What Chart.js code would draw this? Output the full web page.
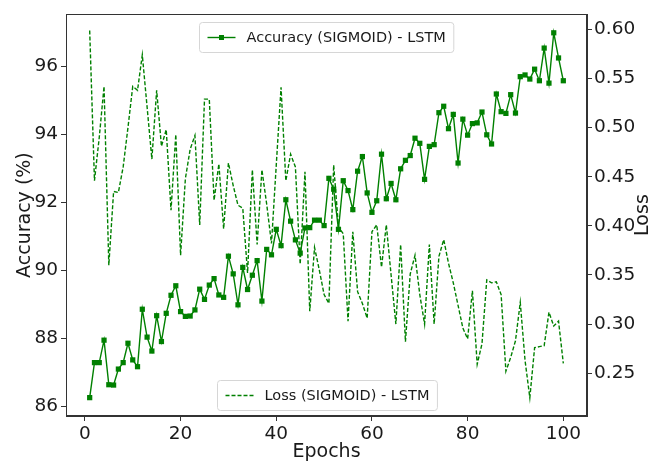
<!DOCTYPE html>
<html>
<head>
<meta charset="utf-8">
<script src="https://cdn.jsdelivr.net/npm/chart.js@4/dist/chart.umd.min.js"></script>
<style>
  html, body { margin: 0; padding: 0; background: #ffffff; }
  #wrap { width: 652px; height: 463px; position: relative; }
</style>
</head>
<body>
<div id="wrap"><canvas id="c" width="652" height="463"></canvas></div>
<script>
// ---------------- data ----------------
const epochs = [1,2,3,4,5,6,7,8,9,10,11,12,13,14,15,16,17,18,19,20,
  21,22,23,24,25,26,27,28,29,30,31,32,33,34,35,36,37,38,39,40,
  41,42,43,44,45,46,47,48,49,50,51,52,53,54,55,56,57,58,59,60,
  61,62,63,64,65,66,67,68,69,70,71,72,73,74,75,76,77,78,79,80,
  81,82,83,84,85,86,87,88,89,90,91,92,93,94,95,96,97,98,99,100];

const accuracy = [86.25,87.28,87.28,87.94,86.63,86.62,87.09,87.28,87.85,87.36,
  87.16,88.85,88.03,87.62,88.66,87.90,88.73,89.26,89.54,88.78,
  88.64,88.65,88.83,89.44,89.14,89.56,89.75,89.27,89.20,90.41,
  89.89,88.98,90.08,89.43,89.85,90.28,89.09,90.61,90.45,91.20,
  90.72,92.07,91.44,90.89,90.50,91.24,91.25,91.47,91.47,91.31,
  92.70,92.38,91.20,92.63,92.34,91.78,92.91,93.34,92.27,91.70,
  92.04,93.41,92.10,92.55,92.07,92.98,93.23,93.37,93.88,93.73,
  92.67,93.64,93.69,94.63,94.82,94.16,94.58,93.15,94.44,93.97,
  94.31,94.33,94.65,93.98,93.71,95.18,94.66,94.61,95.16,94.62,
  95.69,95.74,95.62,95.91,95.57,96.53,95.50,96.98,96.24,95.57];

const loss = [0.599,0.446,0.490,0.542,0.360,0.435,0.434,0.460,0.500,0.542,
  0.538,0.574,0.521,0.468,0.538,0.481,0.498,0.416,0.493,0.370,
  0.448,0.478,0.492,0.401,0.529,0.529,0.426,0.463,0.397,0.464,
  0.441,0.421,0.418,0.352,0.457,0.381,0.457,0.422,0.382,0.462,
  0.541,0.446,0.473,0.460,0.361,0.455,0.313,0.378,0.355,0.330,
  0.321,0.462,0.399,0.392,0.303,0.394,0.333,0.321,0.306,0.394,
  0.401,0.358,0.401,0.350,0.300,0.381,0.282,0.351,0.370,0.330,
  0.300,0.381,0.300,0.369,0.386,0.362,0.342,0.319,0.296,0.285,
  0.334,0.259,0.280,0.345,0.342,0.343,0.330,0.252,0.266,0.283,
  0.322,0.263,0.225,0.276,0.277,0.278,0.312,0.298,0.303,0.260];

const epochTicks = [0,20,40,60,80,100];
const accTicks = [86,88,90,92,94,96];
const lossTicks = [0.25,0.30,0.35,0.40,0.45,0.50,0.55,0.60];

const accLabel = 'Accuracy (SIGMOID) - LSTM';
const lossLabel = 'Loss (SIGMOID) - LSTM';

// ---------------- styling ----------------
const GREEN = '#008000';
const FONT = "'DejaVu Sans', 'Liberation Sans', sans-serif";
const AXIS = '#333333';
const TEXT = '#1a1a1a';

const framePlugin = {
  id: 'frame',
  afterDatasetsDraw(chart) {
    const {ctx, chartArea: a} = chart;
    ctx.save();
    ctx.strokeStyle = AXIS;
    ctx.lineWidth = 1;
    ctx.strokeRect(Math.round(a.left) + 0.5, Math.round(a.top) + 0.5,
                   Math.round(a.right - a.left) - 1, Math.round(a.bottom - a.top) - 1);
    ctx.restore();
  }
};

function roundRect(ctx, x, y, w, h, r) {
  ctx.beginPath();
  ctx.moveTo(x + r, y);
  ctx.lineTo(x + w - r, y);
  ctx.arcTo(x + w, y, x + w, y + r, r);
  ctx.lineTo(x + w, y + h - r);
  ctx.arcTo(x + w, y + h, x + w - r, y + h, r);
  ctx.lineTo(x + r, y + h);
  ctx.arcTo(x, y + h, x, y + h - r, r);
  ctx.lineTo(x, y + r);
  ctx.arcTo(x, y, x + r, y, r);
  ctx.closePath();
}

const legendsPlugin = {
  id: 'twoLegends',
  afterDatasetsDraw(chart) {
    const {ctx, chartArea: a} = chart;
    const cx = (a.left + a.right) / 2;
    const specs = [
      {ds: 0, top: a.top + 8},
      {ds: 1, top: a.bottom - 6 - 30}
    ];
    ctx.save();
    ctx.font = '14.5px ' + FONT;
    specs.forEach(s => {
      const ds = chart.data.datasets[s.ds];
      const tw = ctx.measureText(ds.label).width;
      const w = 8 + 28 + 11 + tw + 8;
      const h = 30;
      const x = Math.round(cx - w / 2) + 0.5;
      const y = Math.round(s.top) + 0.5;
      roundRect(ctx, x, y, w, h, 3);
      ctx.fillStyle = 'rgba(255,255,255,0.85)';
      ctx.fill();
      ctx.strokeStyle = '#d6d6d6';
      ctx.lineWidth = 1;
      ctx.stroke();
      const ly = y + h / 2;
      ctx.strokeStyle = ds.borderColor;
      ctx.lineWidth = ds.borderWidth;
      ctx.setLineDash(ds.borderDash || []);
      ctx.beginPath();
      ctx.moveTo(x + 8, ly);
      ctx.lineTo(x + 36, ly);
      ctx.stroke();
      ctx.setLineDash([]);
      if (ds.pointRadius > 0) {
        ctx.fillStyle = ds.pointBackgroundColor;
        ctx.fillRect(x + 22 - 2.5, ly - 2.5, 5, 5);
      }
      ctx.fillStyle = TEXT;
      ctx.textBaseline = 'middle';
      ctx.textAlign = 'left';
      ctx.fillText(ds.label, x + 47, ly + 1);
    });
    ctx.restore();
  }
};

const rightTitlePlugin = {
  id: 'rightTitle',
  afterDraw(chart) {
    const {ctx, chartArea: a} = chart;
    ctx.save();
    ctx.translate(643, (a.top + a.bottom) / 2);
    ctx.rotate(-Math.PI / 2);
    ctx.font = '19px ' + FONT;
    ctx.fillStyle = TEXT;
    ctx.textAlign = 'center';
    ctx.textBaseline = 'middle';
    ctx.fillText('Loss', 0, 0);
    ctx.restore();
  }
};

const accPoints = epochs.map((e, i) => ({x: e, y: accuracy[i]}));
const lossPoints = epochs.map((e, i) => ({x: e, y: loss[i]}));

const tickFont = {family: FONT, size: 18.5};

new Chart(document.getElementById('c'), {
  type: 'line',
  data: {
    datasets: [
      {
        label: accLabel,
        data: accPoints,
        yAxisID: 'y',
        borderColor: GREEN,
        backgroundColor: GREEN,
        pointBackgroundColor: GREEN,
        pointBorderColor: GREEN,
        borderWidth: 1.4,
        pointStyle: 'rect',
        pointRadius: 3.7,
        pointBorderWidth: 0,
        tension: 0,
        fill: false
      },
      {
        label: lossLabel,
        data: lossPoints,
        yAxisID: 'y1',
        borderColor: GREEN,
        backgroundColor: GREEN,
        borderWidth: 1.4,
        borderDash: [4, 2],
        pointRadius: 0,
        tension: 0,
        fill: false
      }
    ]
  },
  options: {
    responsive: false,
    animation: false,
    devicePixelRatio: 1,
    layout: {padding: {top: 8, left: 0, right: 0, bottom: 0}},
    plugins: {legend: {display: false}, tooltip: {enabled: false}},
    scales: {
      x: {
        type: 'linear',
        min: -3.95,
        max: 104.95,
        afterBuildTicks: s => { s.ticks = epochTicks.map(v => ({value: v})); },
        afterFit: s => { s.height = 47; },
        ticks: {font: tickFont, color: TEXT, padding: 2, maxRotation: 0,
                callback: v => String(v)},
        grid: {display: true, drawOnChartArea: false, drawTicks: true, tickLength: 5, color: AXIS},
        border: {display: true, color: AXIS},
        title: {display: true, text: 'Epochs', font: {family: FONT, size: 19}, color: TEXT,
                padding: {top: 0, bottom: 0}}
      },
      y: {
        position: 'left',
        min: 85.71,
        max: 97.53,
        afterBuildTicks: s => { s.ticks = accTicks.map(v => ({value: v})); },
        afterFit: s => { s.width = 66; },
        ticks: {font: tickFont, color: TEXT, padding: 3, callback: v => String(v)},
        grid: {display: true, drawOnChartArea: false, drawTicks: true, tickLength: 5, color: AXIS},
        border: {display: true, color: AXIS},
        title: {display: true, text: 'Accuracy (%)', font: {family: FONT, size: 19}, color: TEXT,
                padding: {top: 14, bottom: 0}}
      },
      y1: {
        position: 'right',
        min: 0.2064,
        max: 0.6156,
        afterBuildTicks: s => { s.ticks = lossTicks.map(v => ({value: v})); },
        afterFit: s => { s.width = 65; },
        ticks: {font: tickFont, color: TEXT, padding: 2, callback: v => v.toFixed(2)},
        grid: {display: true, drawOnChartArea: false, drawTicks: true, tickLength: 5, color: AXIS},
        border: {display: true, color: AXIS}
      }
    }
  },
  plugins: [framePlugin, legendsPlugin, rightTitlePlugin]
});
</script>
</body>
</html>
